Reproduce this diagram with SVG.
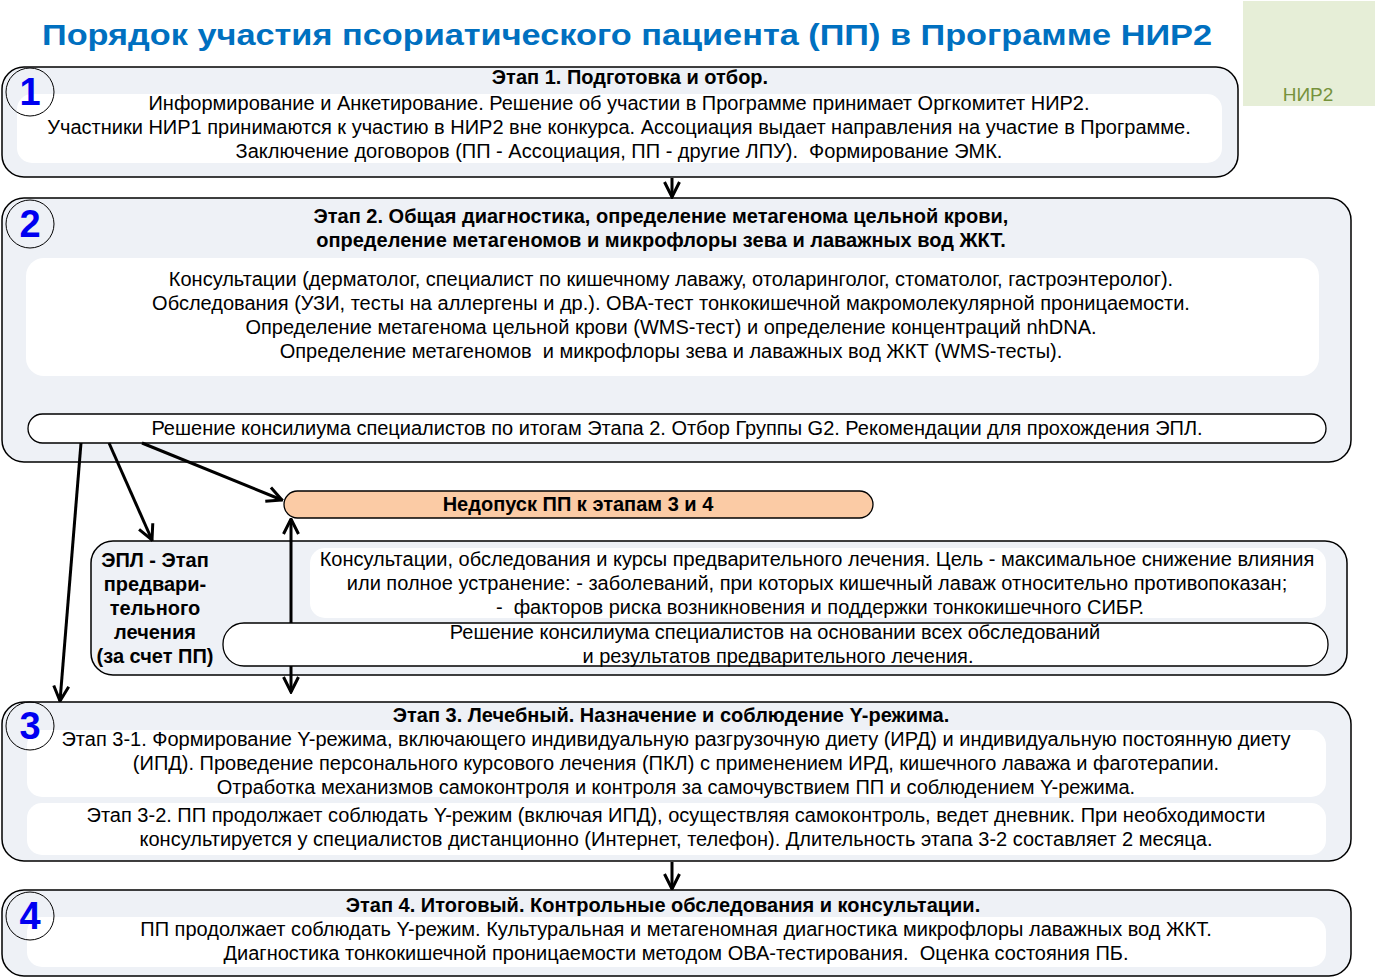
<svg xmlns="http://www.w3.org/2000/svg" width="1375" height="978" viewBox="0 0 1375 978">
<defs>
<style>
text{font-family:"Liberation Sans",Arial,sans-serif;fill:#000;white-space:pre}
.t{font-size:20px;text-anchor:middle}
.b{font-size:20px;font-weight:bold;text-anchor:middle}
.num{font-size:38px;font-weight:bold;fill:#0000F0;text-anchor:middle}
.outer{fill:#EEF1F6;stroke:#000;stroke-width:1.5}
.inner{fill:#fff;stroke:none}
.pill{fill:#fff;stroke:#000;stroke-width:1.3}
.circ{fill:none;stroke:#000;stroke-width:1}
.con{fill:none;stroke:#000;stroke-width:3}
</style>
<marker id="ah" viewBox="0 0 12 12" refX="11" refY="6" markerWidth="18" markerHeight="18" markerUnits="userSpaceOnUse" orient="auto-start-reverse">
<path d="M1,1 L11,6 L1,11" fill="none" stroke="#000" stroke-width="2"/>
</marker>
</defs>
<rect width="1375" height="978" fill="#fff"/>

<g id="title">
<text x="627" y="45" font-size="29" font-weight="bold" text-anchor="middle" style="fill:#0070C0" textLength="1170" lengthAdjust="spacingAndGlyphs">Порядок участия псориатического пациента (ПП) в Программе НИР2</text>
</g>

<g id="nir2-tag">
<rect x="1243" y="1" width="132" height="105" fill="#E6EED7"/>
<text x="1308" y="101" font-size="19" text-anchor="middle" style="fill:#76923C">НИР2</text>
</g>

<g id="stage1">
<rect class="outer" x="2" y="67" width="1236" height="110" rx="22"/>
<rect class="inner" x="17" y="94" width="1205" height="69" rx="15"/>
<circle class="circ" cx="30" cy="92" r="24"/>
<text class="num" x="30" y="105">1</text>
<text class="b" x="630" y="84">Этап 1. Подготовка и отбор.</text>
<text class="t" x="619" y="110">Информирование и Анкетирование. Решение об участии в Программе принимает Оргкомитет НИР2.</text>
<text class="t" x="619" y="134">Участники НИР1 принимаются к участию в НИР2 вне конкурса. Ассоциация выдает направления на участие в Программе.</text>
<text class="t" x="619" y="158">Заключение договоров (ПП - Ассоциация, ПП - другие ЛПУ).  Формирование ЭМК.</text>
</g>

<g id="stage2">
<rect class="outer" x="2" y="198" width="1349" height="264" rx="22"/>
<rect class="inner" x="26" y="258" width="1293" height="118" rx="18"/>
<circle class="circ" cx="30" cy="224" r="24"/>
<text class="num" x="30" y="237">2</text>
<text class="b" x="661" y="223">Этап 2. Общая диагностика, определение метагенома цельной крови,</text>
<text class="b" x="661" y="247">определение метагеномов и микрофлоры зева и лаважных вод ЖКТ.</text>
<text class="t" x="671" y="286">Консультации (дерматолог, специалист по кишечному лаважу, отоларинголог, стоматолог, гастроэнтеролог).</text>
<text class="t" x="671" y="310">Обследования (УЗИ, тесты на аллергены и др.). ОВА-тест тонкокишечной макромолекулярной проницаемости.</text>
<text class="t" x="671" y="334">Определение метагенома цельной крови (WMS-тест) и определение концентраций nhDNA.</text>
<text class="t" x="671" y="358">Определение метагеномов  и микрофлоры зева и лаважных вод ЖКТ (WMS-тесты).</text>
</g>

<g id="decision2">
<rect class="pill" x="28" y="414" width="1298" height="29" rx="14.5"/>
<text class="t" x="677" y="435">Решение консилиума специалистов по итогам Этапа 2. Отбор Группы G2. Рекомендации для прохождения ЭПЛ.</text>
</g>

<g id="reject">
<rect x="284" y="491" width="589" height="27" rx="13.5" fill="#FBCBA5" stroke="#000" stroke-width="1.3"/>
<text class="b" x="578" y="511">Недопуск ПП к этапам 3 и 4</text>
</g>

<g id="epl">
<rect class="outer" x="91" y="541" width="1256" height="134" rx="22"/>
<rect class="inner" x="310" y="548" width="1016" height="70" rx="15"/>
<text class="b" x="155" y="567">ЭПЛ - Этап</text>
<text class="b" x="155" y="591">предвари-</text>
<text class="b" x="155" y="615">тельного</text>
<text class="b" x="155" y="639">лечения</text>
<text class="b" x="155" y="663">(за счет ПП)</text>
<text class="t" x="817" y="566">Консультации, обследования и курсы предварительного лечения. Цель - максимальное снижение влияния</text>
<text class="t" x="817" y="590">или полное устранение: - заболеваний, при которых кишечный лаваж относительно противопоказан;</text>
<text class="t" x="820" y="614">-  факторов риска возникновения и поддержки тонкокишечного СИБР.</text>
</g>

<g id="connectors">
<line class="con" x1="672" y1="178" x2="672" y2="197" marker-end="url(#ah)"/>
<line class="con" x1="81" y1="443" x2="60" y2="701" marker-end="url(#ah)"/>
<line class="con" x1="109" y1="443" x2="152" y2="540" marker-end="url(#ah)"/>
<line class="con" x1="142" y1="443" x2="282" y2="500" marker-end="url(#ah)"/>
<path class="con" d="M291,519 V623 M291,666 V692" marker-start="url(#ah)" marker-end="url(#ah)"/>
<line class="con" x1="672" y1="862" x2="672" y2="889" marker-end="url(#ah)"/>
</g>

<g id="decision-epl">
<rect class="pill" x="223" y="623" width="1105" height="43" rx="21"/>
<text class="t" x="775" y="639">Решение консилиума специалистов на основании всех обследований</text>
<text class="t" x="778" y="663">и результатов предварительного лечения.</text>
</g>

<g id="stage3">
<rect class="outer" x="2" y="702" width="1349" height="159" rx="22"/>
<rect class="inner" x="27" y="730" width="1299" height="67" rx="15"/>
<rect class="inner" x="27" y="803" width="1299" height="52" rx="15"/>
<circle class="circ" cx="30" cy="726" r="24"/>
<text class="num" x="30" y="739">3</text>
<text class="b" x="671" y="722">Этап 3. Лечебный. Назначение и соблюдение Y-режима.</text>
<text class="t" x="676" y="746">Этап 3-1. Формирование Y-режима, включающего индивидуальную разгрузочную диету (ИРД) и индивидуальную постоянную диету</text>
<text class="t" x="676" y="770">(ИПД). Проведение персонального курсового лечения (ПКЛ) с применением ИРД, кишечного лаважа и фаготерапии.</text>
<text class="t" x="676" y="794">Отработка механизмов самоконтроля и контроля за самочувствием ПП и соблюдением Y-режима.</text>
<text class="t" x="676" y="822">Этап 3-2. ПП продолжает соблюдать Y-режим (включая ИПД), осуществляя самоконтроль, ведет дневник. При необходимости</text>
<text class="t" x="676" y="846">консультируется у специалистов дистанционно (Интернет, телефон). Длительность этапа 3-2 составляет 2 месяца.</text>
</g>

<g id="stage4">
<rect class="outer" x="2" y="890" width="1349" height="86" rx="22"/>
<rect class="inner" x="27" y="917" width="1299" height="50" rx="15"/>
<circle class="circ" cx="30" cy="916" r="24"/>
<text class="num" x="30" y="929">4</text>
<text class="b" x="663" y="912">Этап 4. Итоговый. Контрольные обследования и консультации.</text>
<text class="t" x="676" y="936">ПП продолжает соблюдать Y-режим. Культуральная и метагеномная диагностика микрофлоры лаважных вод ЖКТ.</text>
<text class="t" x="676" y="960">Диагностика тонкокишечной проницаемости методом ОВА-тестирования.  Оценка состояния ПБ.</text>
</g>
</svg>
